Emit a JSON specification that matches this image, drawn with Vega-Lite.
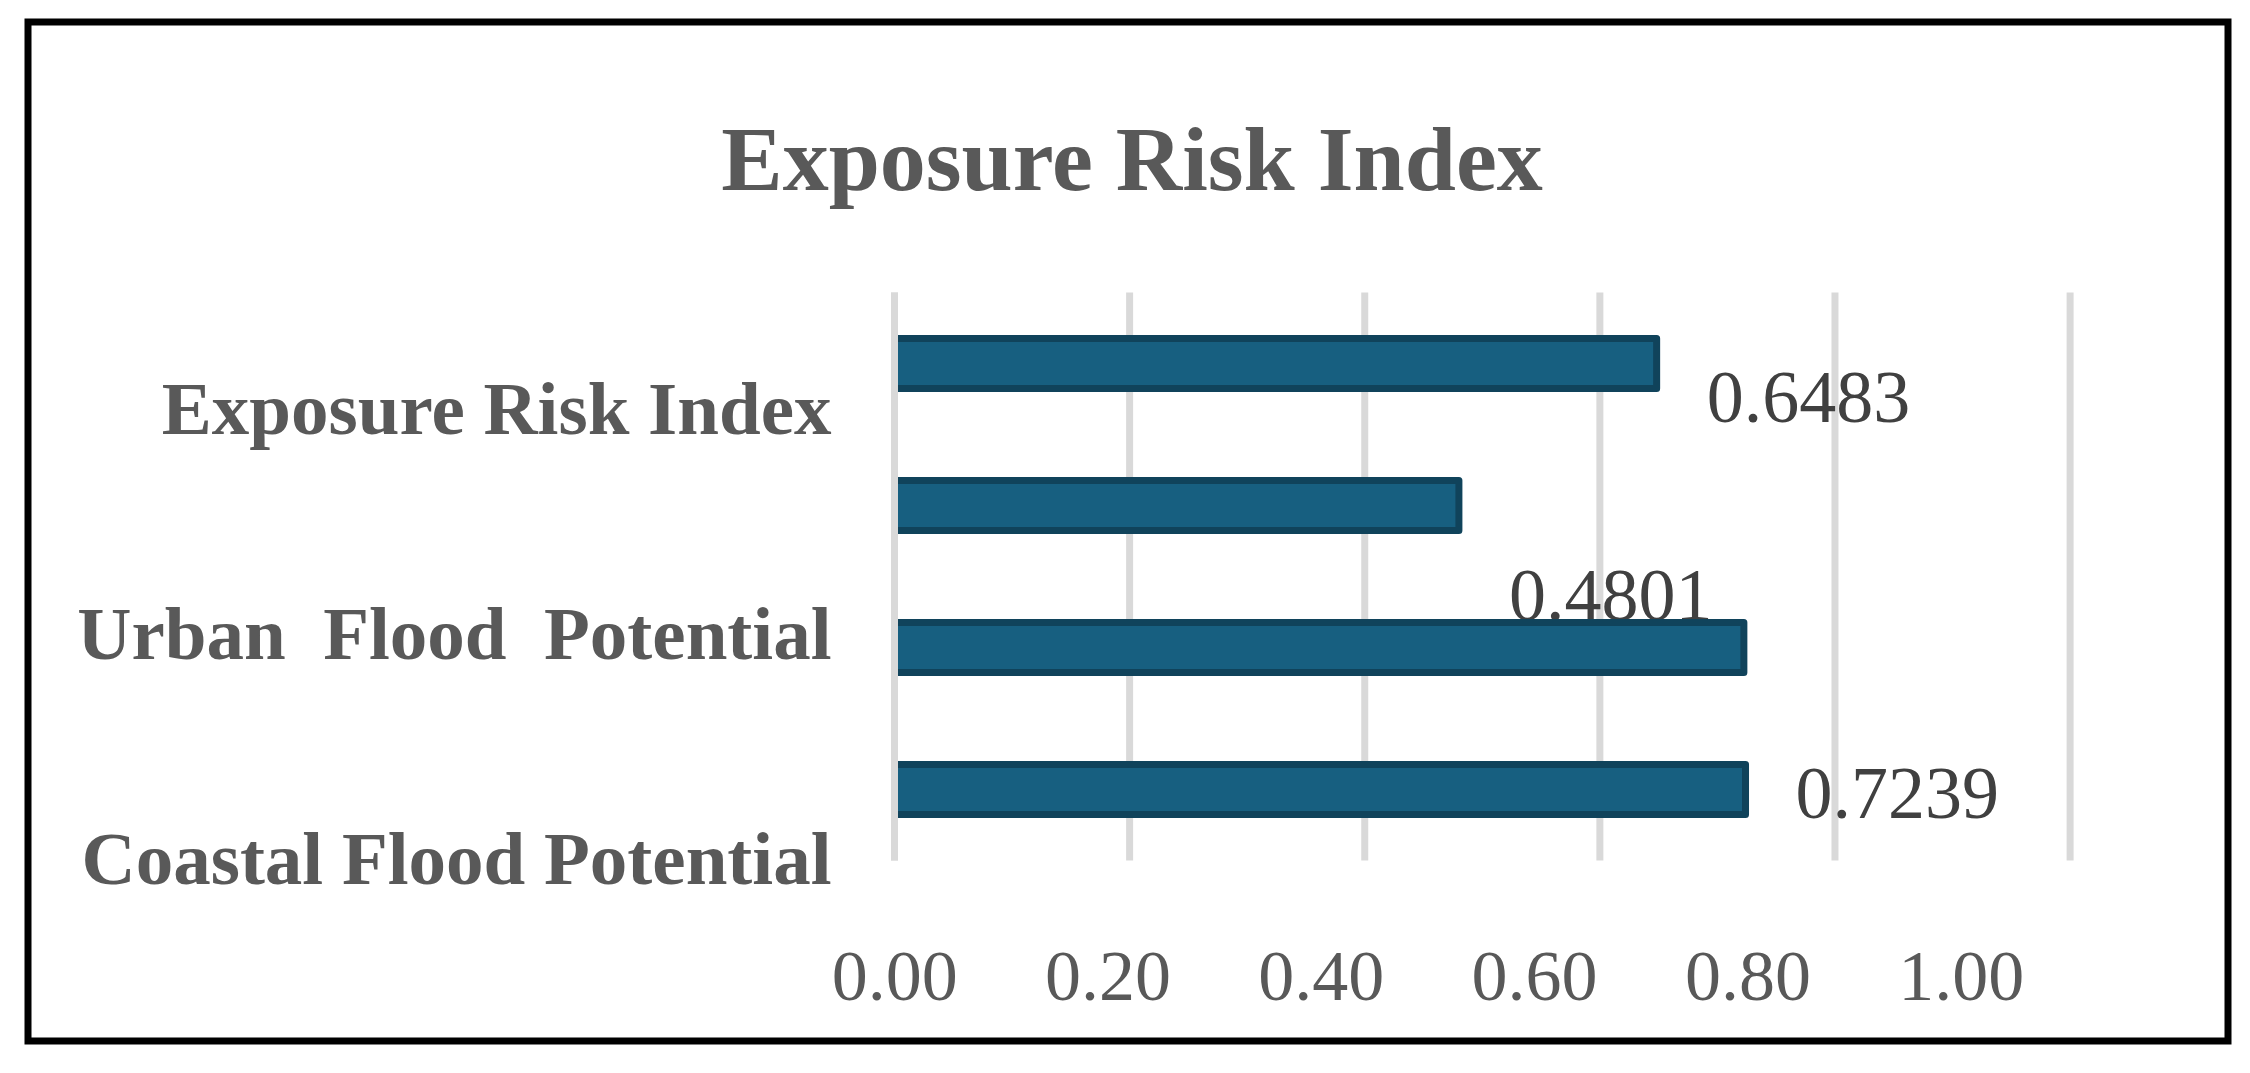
{
  "$schema": "https://vega.github.io/schema/vega-lite/v6.json",
  "width": 2200,
  "height": 1019,
  "autosize": {"type": "none"},
  "padding": {"left": 28, "top": 22, "right": 22, "bottom": 32},
  "background": "white",
  "config": {"view": {"stroke": "#000000", "strokeWidth": 7, "fill": "white"}},
  "title": {"text": "Exposure Risk Index", "font": "Liberation Serif", "fontSize": 92, "fontWeight": "bold", "color": "#595959", "anchor": "middle", "baseline": "alphabetic", "offset": -260, "dx": 4},
  "datasets": {
    "bars": [
      {"bar": "1", "value": 0.6483, "label": "0.6483"},
      {"bar": "2", "value": 0.4801, "label": "0.4801"},
      {"bar": "3", "value": 0.7225, "label": null},
      {"bar": "4", "value": 0.7239, "label": "0.7239"}
    ],
    "categories": [
      {"category": "Exposure Risk Index"},
      {"category": "Urban  Flood  Potential"},
      {"category": "Coastal Flood Potential"}
    ],
    "ticks": [
      {"tick": 0}, {"tick": 0.2}, {"tick": 0.4}, {"tick": 0.6}, {"tick": 0.8}, {"tick": 1.0}
    ]
  },
  "resolve": {"scale": {"x": "independent", "y": "independent"}},
  "layer": [
    {
      "data": {"name": "ticks"},
      "mark": {"type": "rule", "color": "#d9d9d9", "strokeWidth": 7},
      "encoding": {
        "x": {"field": "tick", "type": "quantitative", "scale": {"domain": [-0.73707, 1.13431], "nice": false, "zero": false}, "axis": null},
        "y": {"datum": 0, "type": "quantitative", "scale": {"domain": [-0.31778, 1.476232], "nice": false, "zero": false}, "axis": null},
        "y2": {"datum": 1}
      }
    },
    {
      "data": {"name": "ticks"},
      "mark": {"type": "text", "font": "Liberation Serif", "fontSize": 72, "color": "#595959", "align": "center", "baseline": "alphabetic"},
      "encoding": {
        "x": {"field": "tick", "type": "quantitative", "scale": {"domain": [-0.81266, 1.25016], "nice": false, "zero": false}, "axis": null},
        "y": {"datum": -0.2463, "type": "quantitative", "scale": {"domain": [-0.31778, 1.476232], "nice": false, "zero": false}, "axis": null},
        "text": {"field": "tick", "type": "quantitative", "format": ".2f"}
      }
    },
    {
      "data": {"name": "categories"},
      "transform": [{"calculate": "replace(datum.category, /  /g, '\u00a0 ')", "as": "shown"}],
      "mark": {"type": "text", "font": "Liberation Serif", "fontSize": 75, "fontWeight": "bold", "color": "#595959", "align": "right", "baseline": "alphabetic", "dx": -63},
      "encoding": {
        "x": {"datum": 0, "type": "quantitative", "scale": {"domain": [-0.73707, 1.13431], "nice": false, "zero": false}, "axis": null},
        "y": {"field": "category", "type": "nominal", "sort": null, "scale": {"type": "point", "range": [412, 862], "padding": 0}, "axis": null},
        "text": {"field": "shown"}
      }
    },
    {
      "data": {"name": "bars"},
      "transform": [{"filter": "datum.label != null"}],
      "mark": {"type": "text", "font": "Liberation Serif", "fontSize": 74, "color": "#404040", "align": "left", "baseline": "alphabetic", "dx": 50},
      "encoding": {
        "x": {"field": "value", "type": "quantitative", "scale": {"domain": [-0.73707, 1.13431], "nice": false, "zero": false}, "axis": null},
        "y": {"field": "bar", "type": "nominal", "sort": null, "scale": {"type": "point", "range": [400, 796], "padding": 0}, "axis": null},
        "text": {"field": "label"}
      }
    },
    {
      "data": {"name": "bars"},
      "mark": {"type": "bar", "fill": "#175F80", "stroke": "#10435B", "strokeWidth": 7, "strokeJoin": "round"},
      "encoding": {
        "x": {"field": "value", "type": "quantitative", "scale": {"domain": [-0.73707, 1.13431], "nice": false, "zero": false}, "axis": null},
        "y": {"field": "bar", "type": "nominal", "sort": null, "scale": {"type": "band", "range": [270.5, 838.5], "paddingInner": 0.64789, "paddingOuter": 0.324, "align": 0.5, "round": false}, "axis": null}
      }
    },
    {
      "data": {"name": "ticks"},
      "transform": [{"filter": "datum.tick == 0"}],
      "mark": {"type": "rule", "color": "#d9d9d9", "strokeWidth": 7},
      "encoding": {
        "x": {"field": "tick", "type": "quantitative", "scale": {"domain": [-0.73707, 1.13431], "nice": false, "zero": false}, "axis": null},
        "y": {"datum": 0, "type": "quantitative", "scale": {"domain": [-0.31778, 1.476232], "nice": false, "zero": false}, "axis": null},
        "y2": {"datum": 1}
      }
    }
  ]
}
